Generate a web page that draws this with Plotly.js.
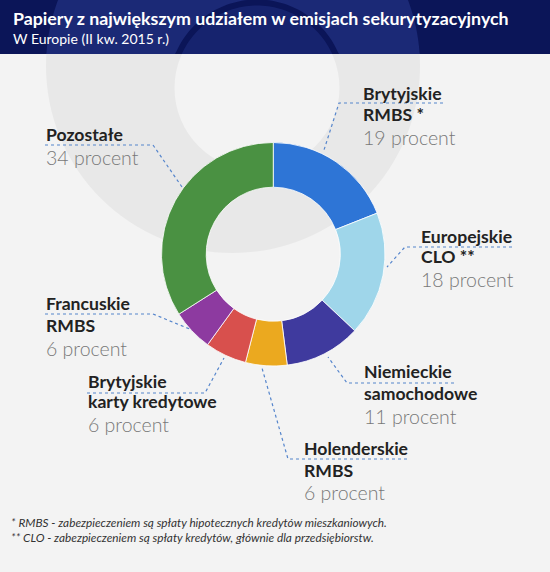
<!DOCTYPE html>
<html>
<head>
<meta charset="utf-8">
<script src="https://cdn.plot.ly/plotly-3.0.1.min.js"></script>
<style>
html,body{margin:0;padding:0;background:#f3f3f3;}
#chart{width:550px;height:572px;}
</style>
</head>
<body>
<div id="chart"></div>
<script>
// ---- data ----
const categories = ['Brytyjskie RMBS *', 'Europejskie CLO **', 'Niemieckie samochodowe', 'Holenderskie RMBS', 'Brytyjskie karty kredytowe', 'Francuskie RMBS', 'Pozostałe'];
const values = [19, 18, 11, 6, 6, 6, 34];
const labelLines = [['Brytyjskie', 'RMBS *'], ['Europejskie', 'CLO **'], ['Niemieckie', 'samochodowe'], ['Holenderskie', 'RMBS'], ['Brytyjskie', 'karty kredytowe'], ['Francuskie', 'RMBS'], ['Pozostałe']];
const valueSuffix = ' procent';
const titleText = 'Papiery z największym udziałem w emisjach sekurytyzacyjnych';
const subtitleText = 'W Europie (II kw. 2015 r.)';
const footnotes = ['* RMBS - zabezpieczeniem są spłaty hipotecznych kredytów mieszkaniowych.', '** CLO - zabezpieczeniem są spłaty kredytów, głównie dla przedsiębiorstw.'];

// ---- styles / layout positions (pixels) ----
const colors = ['#2e75d6', '#9fd6ea', '#3f3a9e', '#eba91f', '#d8504d', '#8d3aa0', '#4a9142'];
const W = 550, H = 572;
const cx = 273.25, cy = 254.25, R = 111.75;
const labelX = [362, 420, 363, 303, 87, 45, 45];
const labelBaselines = [[100, 121], [243, 263], [378, 400], [455, 477], [388, 408], [310, 332], [141]];
const valueBaselines = [145, 287, 424, 500, 432, 356, 165];
const leaders = [
  [[443, 103], [339, 103], [324, 150]],
  [[512, 247], [405, 247], [387, 267]],
  [[454, 383], [347, 383], [328, 357]],
  [[407, 459], [288, 459], [262, 368]],
  [[87, 393], [205, 393], [224, 358]],
  [[45, 314], [153, 314], [192, 330]],
  [[45, 145], [153, 145], [182, 187]]
];
const footY = [522.8, 537.1];

const boldSize = 17.6, valueSize = 19.5, footSize = 11.8;
const ctr = (baseline, size) => baseline - 0.387 * size;

const headerH = 54;
const bg = '#f3f3f3', wm = '#e8e8e8', navy = '#0b1558', navyRing = '#1b2976';
const outer = {x: 233, y: 66, r: 187};
const inner = {x: 257, y: 88, r: 82.5};

function clampedCircle(c, ymax) {
  let pts = [];
  for (let i = 0; i <= 180; i++) {
    const a = i / 180 * 2 * Math.PI;
    const x = c.x + c.r * Math.cos(a);
    let y = c.y + c.r * Math.sin(a);
    if (y > ymax) y = ymax;
    pts.push(x.toFixed(2) + ',' + y.toFixed(2));
  }
  return 'M' + pts.join('L') + 'Z';
}

const shapes = [
  {type: 'rect', xref: 'x', yref: 'y', x0: 0, x1: W, y0: 0, y1: H, fillcolor: bg, line: {width: 0}, layer: 'below'},
  {type: 'circle', xref: 'x', yref: 'y', x0: outer.x - outer.r, x1: outer.x + outer.r, y0: outer.y - outer.r, y1: outer.y + outer.r, fillcolor: wm, line: {width: 0}, layer: 'below'},
  {type: 'circle', xref: 'x', yref: 'y', x0: inner.x - inner.r, x1: inner.x + inner.r, y0: inner.y - inner.r, y1: inner.y + inner.r, fillcolor: bg, line: {width: 0}, layer: 'below'},
  {type: 'rect', xref: 'x', yref: 'y', x0: 0, x1: W, y0: 0, y1: headerH, fillcolor: navy, line: {width: 0}, layer: 'below'},
  {type: 'path', xref: 'x', yref: 'y', path: clampedCircle(outer, headerH), fillcolor: navyRing, line: {width: 0}, layer: 'below'},
  {type: 'path', xref: 'x', yref: 'y', path: clampedCircle({x: inner.x, y: inner.y, r: inner.r + 6}, headerH), fillcolor: navy, line: {width: 0}, layer: 'below'},
  {type: 'path', xref: 'x', yref: 'y', path: clampedCircle(inner, headerH), fillcolor: '#16236e', line: {width: 0}, layer: 'below'}
];

leaders.forEach(pts => {
  shapes.push({
    type: 'path', xref: 'x', yref: 'y',
    path: 'M' + pts.map(p => p[0] + ',' + p[1]).join('L'),
    line: {color: '#5585cc', width: 1.2, dash: 'dot'},
    layer: 'above'
  });
});

const annotations = [];
const ann = (text, x, y, font, pad) => annotations.push({
  text: text, x: x, y: y, xref: 'x', yref: 'y', xanchor: 'left', yanchor: 'middle',
  showarrow: false, font: font, align: 'left', borderpad: pad === undefined ? 1 : pad
});

ann(titleText, 11, ctr(25, 17.8), {family: 'Lato', size: 17.8, color: '#ffffff', weight: 700});
ann(subtitleText, 11, ctr(44, 14), {family: 'Lato', size: 14, color: '#ffffff', weight: 400});

categories.forEach((c, i) => {
  labelLines[i].forEach((line, j) => {
    ann(line, labelX[i] - 1, ctr(labelBaselines[i][j], boldSize), {family: 'Lato', size: boldSize, color: '#222222', weight: 700});
  });
  ann(values[i] + valueSuffix, labelX[i] - 1, ctr(valueBaselines[i], valueSize), {family: 'Lato', size: valueSize, color: '#787878', weight: 300});
});

footnotes.forEach((f, i) => ann(f, 10, footY[i], {family: 'Lato', size: footSize, color: '#333333', style: 'italic'}, 0));

const trace = {
  type: 'pie',
  labels: categories,
  values: values,
  sort: false,
  direction: 'clockwise',
  rotation: 0,
  hole: 0.6,
  textinfo: 'none',
  hoverinfo: 'skip',
  showlegend: false,
  marker: {colors: colors, line: {color: '#ffffff', width: 0.8}},
  domain: {x: [(cx - R) / W, (cx + R) / W], y: [1 - (cy + R) / H, 1 - (cy - R) / H]}
};

const layout = {
  width: W, height: H,
  margin: {l: 0, r: 0, t: 0, b: 0, pad: 0},
  paper_bgcolor: bg, plot_bgcolor: 'rgba(0,0,0,0)',
  xaxis: {range: [0, W], visible: false, fixedrange: true, domain: [0, 1]},
  yaxis: {range: [H, 0], visible: false, fixedrange: true, domain: [0, 1]},
  shapes: shapes,
  annotations: annotations,
  showlegend: false
};

Plotly.newPlot('chart', [trace], layout, {displayModeBar: false, staticPlot: true});
</script>
</body>
</html>
